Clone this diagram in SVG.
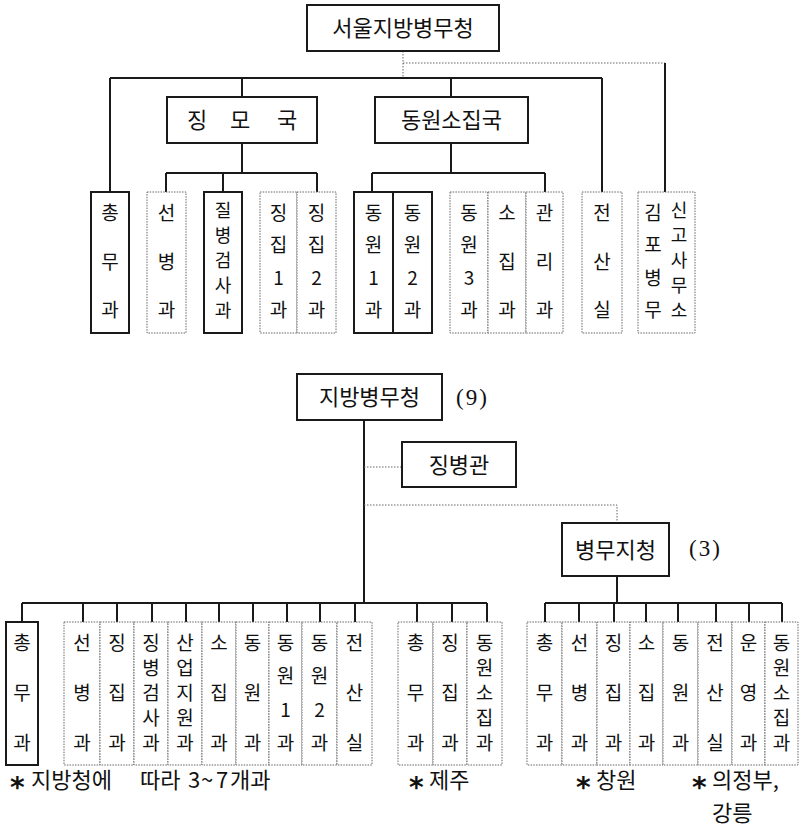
<svg xmlns="http://www.w3.org/2000/svg" width="804" height="828" viewBox="0 0 804 828">
<style>
.ln{stroke:#1a1a1a;stroke-width:2;fill:none}
.dl{stroke:#666;stroke-width:1;stroke-dasharray:1.5 1.5;fill:none}
.bx{fill:#fff;stroke:#1a1a1a;stroke-width:2}
.db{fill:#fff;stroke:#666;stroke-width:1;stroke-dasharray:1.5 1.2}
.t{font-family:"Noto Sans CJK KR","Noto Sans CJK SC",sans-serif;font-size:19px;fill:#111;text-anchor:middle}
.s{font-size:18px}
.h{font-size:22px}
.n{font-family:"Liberation Serif","DejaVu Serif",serif;font-size:23px;fill:#111;letter-spacing:2px}
.f{font-family:"Noto Sans CJK KR","Noto Sans CJK SC",sans-serif;font-size:22px;fill:#111}
.a{font-family:"DejaVu Sans",sans-serif;font-weight:bold;font-size:28px}
</style>
<rect width="804" height="828" fill="#fff"/>
<g id="connectors">
<path class="dl" d="M403 51V78M403 63H665"/>
<path class="ln" d="M665 63V192"/>
<path class="ln" d="M110 78H602M110 78V192M242 78V97M451 78V97M602 78V192"/>
<path class="ln" d="M242 143V173M166 173H317M166 173V192M223 173V192M317 173V192"/>
<path class="ln" d="M451 143V173M372 173H545M372 173V192M545 173V192"/>
<path class="ln" d="M364 420V603M22 603H487M22 603V622M83 603V622M117 603V622M152 603V622M186 603V622M219 603V622M253 603V622M287 603V622M320 603V622M355 603V622M417 603V622M452 603V622M487 603V622"/>
<path class="dl" d="M364 467H402M364 505H617V523"/>
<path class="ln" d="M617 576V603M545 603H782M545 603V622M579 603V622M614 603V622M646 603V622M678 603V622M716 603V622M749 603V622M782 603V622"/>
</g>
<g id="seoul"><rect class="bx" x="307" y="5" width="192" height="46"/><text class="t h" x="403" y="36">서울지방병무청</text></g>
<g id="jingmo"><rect class="bx" x="167" y="97" width="150" height="46"/><text class="t h" x="197 218 240 263 287" y="128">징 모 국</text></g>
<g id="dongwon-guk"><rect class="bx" x="375" y="97" width="153" height="46"/><text class="t h" x="451.5" y="128">동원소집국</text></g>
<g id="s-chongmu"><rect class="bx" x="91" y="192" width="38" height="141"/><text class="t"><tspan x="110" y="220">총</tspan><tspan x="110" y="269">무</tspan><tspan x="110" y="317">과</tspan></text></g>
<g id="s-seonbyeong"><rect class="db" x="147" y="192" width="39" height="141"/><text class="t"><tspan x="166.5" y="220">선</tspan><tspan x="166.5" y="269">병</tspan><tspan x="166.5" y="317">과</tspan></text></g>
<g id="s-jilbyeong"><rect class="bx" x="204" y="192" width="38" height="141"/><text class="t s"><tspan x="223" y="217">질</tspan><tspan x="223" y="242">병</tspan><tspan x="223" y="267">검</tspan><tspan x="223" y="292">사</tspan><tspan x="223" y="317">과</tspan></text></g>
<g id="s-jingjip1"><rect class="db" x="260" y="192" width="37" height="141"/><text class="t"><tspan x="278.5" y="220">징</tspan><tspan x="278.5" y="252">집</tspan><tspan x="278.5" y="285">1</tspan><tspan x="278.5" y="317">과</tspan></text></g>
<g id="s-jingjip2"><rect class="db" x="297" y="192" width="39" height="141"/><text class="t"><tspan x="316.5" y="220">징</tspan><tspan x="316.5" y="252">집</tspan><tspan x="316.5" y="285">2</tspan><tspan x="316.5" y="317">과</tspan></text></g>
<g id="s-dongwon1"><rect class="bx" x="354" y="192" width="39" height="141"/><text class="t"><tspan x="373.5" y="220">동</tspan><tspan x="373.5" y="252">원</tspan><tspan x="373.5" y="285">1</tspan><tspan x="373.5" y="317">과</tspan></text></g>
<g id="s-dongwon2"><rect class="bx" x="393" y="192" width="39" height="141"/><text class="t"><tspan x="412.5" y="220">동</tspan><tspan x="412.5" y="252">원</tspan><tspan x="412.5" y="285">2</tspan><tspan x="412.5" y="317">과</tspan></text></g>
<g id="s-dongwon3"><rect class="db" x="450" y="192" width="38" height="141"/><text class="t"><tspan x="469" y="220">동</tspan><tspan x="469" y="252">원</tspan><tspan x="469" y="285">3</tspan><tspan x="469" y="317">과</tspan></text></g>
<g id="s-sojip"><rect class="db" x="488" y="192" width="38" height="141"/><text class="t"><tspan x="507" y="220">소</tspan><tspan x="507" y="269">집</tspan><tspan x="507" y="317">과</tspan></text></g>
<g id="s-gwanri"><rect class="db" x="526" y="192" width="37" height="141"/><text class="t"><tspan x="544.5" y="220">관</tspan><tspan x="544.5" y="269">리</tspan><tspan x="544.5" y="317">과</tspan></text></g>
<g id="s-jeonsan"><rect class="db" x="582" y="192" width="40" height="141"/><text class="t"><tspan x="602" y="220">전</tspan><tspan x="602" y="269">산</tspan><tspan x="602" y="317">실</tspan></text></g>
<g id="s-gimpo"><rect class="db" x="638" y="192" width="57" height="141"/><text class="t"><tspan x="653" y="220">김</tspan><tspan x="653" y="252">포</tspan><tspan x="653" y="285">병</tspan><tspan x="653" y="317">무</tspan></text><text class="t s"><tspan x="679" y="217">신</tspan><tspan x="679" y="242">고</tspan><tspan x="679" y="267">사</tspan><tspan x="679" y="292">무</tspan><tspan x="679" y="317">소</tspan></text></g>
<g id="jibang"><rect class="bx" x="297" y="374" width="145" height="46"/><text class="t h" x="369.5" y="405">지방병무청</text><text class="n" x="456" y="405">(9)</text></g>
<g id="jingbyeonggwan"><rect class="bx" x="402" y="442" width="114" height="45"/><text class="t h" x="459" y="473">징병관</text></g>
<g id="jicheong"><rect class="bx" x="562" y="523" width="107" height="53"/><text class="t h" x="615.5" y="558">병무지청</text><text class="n" x="689" y="556">(3)</text></g>
<g id="b-chongmu"><rect class="bx" x="6" y="622" width="32" height="143"/><text class="t"><tspan x="22" y="650">총</tspan><tspan x="22" y="700">무</tspan><tspan x="22" y="750">과</tspan></text></g>
<g id="b-seonbyeong"><rect class="db" x="64" y="622" width="36" height="143"/><text class="t"><tspan x="82" y="650">선</tspan><tspan x="82" y="700">병</tspan><tspan x="82" y="750">과</tspan></text></g>
<g id="b-jingjip"><rect class="db" x="100" y="622" width="34" height="143"/><text class="t"><tspan x="117" y="650">징</tspan><tspan x="117" y="700">집</tspan><tspan x="117" y="750">과</tspan></text></g>
<g id="b-jingbyeong"><rect class="db" x="134" y="622" width="34" height="143"/><text class="t"><tspan x="151" y="650">징</tspan><tspan x="151" y="675">병</tspan><tspan x="151" y="700">검</tspan><tspan x="151" y="725">사</tspan><tspan x="151" y="750">과</tspan></text></g>
<g id="b-saneop"><rect class="db" x="168" y="622" width="34" height="143"/><text class="t"><tspan x="185" y="650">산</tspan><tspan x="185" y="675">업</tspan><tspan x="185" y="700">지</tspan><tspan x="185" y="725">원</tspan><tspan x="185" y="750">과</tspan></text></g>
<g id="b-sojip"><rect class="db" x="202" y="622" width="34" height="143"/><text class="t"><tspan x="219" y="650">소</tspan><tspan x="219" y="700">집</tspan><tspan x="219" y="750">과</tspan></text></g>
<g id="b-dongwon"><rect class="db" x="236" y="622" width="33" height="143"/><text class="t"><tspan x="252.5" y="650">동</tspan><tspan x="252.5" y="700">원</tspan><tspan x="252.5" y="750">과</tspan></text></g>
<g id="b-dongwon1"><rect class="db" x="269" y="622" width="33" height="143"/><text class="t"><tspan x="285.5" y="650">동</tspan><tspan x="285.5" y="683">원</tspan><tspan x="285.5" y="717">1</tspan><tspan x="285.5" y="750">과</tspan></text></g>
<g id="b-dongwon2"><rect class="db" x="302" y="622" width="35" height="143"/><text class="t"><tspan x="319.5" y="650">동</tspan><tspan x="319.5" y="683">원</tspan><tspan x="319.5" y="717">2</tspan><tspan x="319.5" y="750">과</tspan></text></g>
<g id="b-jeonsan"><rect class="db" x="337" y="622" width="35" height="143"/><text class="t"><tspan x="354.5" y="650">전</tspan><tspan x="354.5" y="700">산</tspan><tspan x="354.5" y="750">실</tspan></text></g>
<g id="j-chongmu"><rect class="db" x="398" y="622" width="35" height="143"/><text class="t"><tspan x="415.5" y="650">총</tspan><tspan x="415.5" y="700">무</tspan><tspan x="415.5" y="750">과</tspan></text></g>
<g id="j-jingjip"><rect class="db" x="433" y="622" width="34" height="143"/><text class="t"><tspan x="450" y="650">징</tspan><tspan x="450" y="700">집</tspan><tspan x="450" y="750">과</tspan></text></g>
<g id="j-dongwonsojip"><rect class="db" x="467" y="622" width="35" height="143"/><text class="t"><tspan x="484.5" y="650">동</tspan><tspan x="484.5" y="675">원</tspan><tspan x="484.5" y="700">소</tspan><tspan x="484.5" y="725">집</tspan><tspan x="484.5" y="750">과</tspan></text></g>
<g id="r-chongmu"><rect class="db" x="527" y="622" width="35" height="143"/><text class="t"><tspan x="544.5" y="650">총</tspan><tspan x="544.5" y="700">무</tspan><tspan x="544.5" y="750">과</tspan></text></g>
<g id="r-seonbyeong"><rect class="db" x="562" y="622" width="35" height="143"/><text class="t"><tspan x="579.5" y="650">선</tspan><tspan x="579.5" y="700">병</tspan><tspan x="579.5" y="750">과</tspan></text></g>
<g id="r-jingjip"><rect class="db" x="597" y="622" width="33" height="143"/><text class="t"><tspan x="613.5" y="650">징</tspan><tspan x="613.5" y="700">집</tspan><tspan x="613.5" y="750">과</tspan></text></g>
<g id="r-sojip"><rect class="db" x="630" y="622" width="33" height="143"/><text class="t"><tspan x="646.5" y="650">소</tspan><tspan x="646.5" y="700">집</tspan><tspan x="646.5" y="750">과</tspan></text></g>
<g id="r-dongwon"><rect class="db" x="663" y="622" width="35" height="143"/><text class="t"><tspan x="680.5" y="650">동</tspan><tspan x="680.5" y="700">원</tspan><tspan x="680.5" y="750">과</tspan></text></g>
<g id="r-jeonsan"><rect class="db" x="698" y="622" width="34" height="143"/><text class="t"><tspan x="715" y="650">전</tspan><tspan x="715" y="700">산</tspan><tspan x="715" y="750">실</tspan></text></g>
<g id="r-unyeong"><rect class="db" x="732" y="622" width="33" height="143"/><text class="t"><tspan x="748.5" y="650">운</tspan><tspan x="748.5" y="700">영</tspan><tspan x="748.5" y="750">과</tspan></text></g>
<g id="r-dongwonsojip"><rect class="db" x="765" y="622" width="33" height="143"/><text class="t"><tspan x="781.5" y="650">동</tspan><tspan x="781.5" y="675">원</tspan><tspan x="781.5" y="700">소</tspan><tspan x="781.5" y="725">집</tspan><tspan x="781.5" y="750">과</tspan></text></g>
<g id="notes">
<text class="f"><tspan class="a" x="10" y="797">*</tspan><tspan x="31" y="788">지방청에</tspan><tspan x="140" y="788">따라</tspan><tspan x="188 201 216" y="788">3~7</tspan><tspan x="230" y="788">개과</tspan></text>
<text class="f"><tspan class="a" x="409" y="797">*</tspan><tspan x="429" y="788">제주</tspan></text>
<text class="f"><tspan class="a" x="576" y="797">*</tspan><tspan x="596" y="788">창원</tspan></text>
<text class="f"><tspan class="a" x="692" y="797">*</tspan><tspan x="712" y="788">의정부,</tspan></text>
<text class="f" font-size="20"><tspan x="712" y="821">강릉</tspan></text>
</g>
</svg>
